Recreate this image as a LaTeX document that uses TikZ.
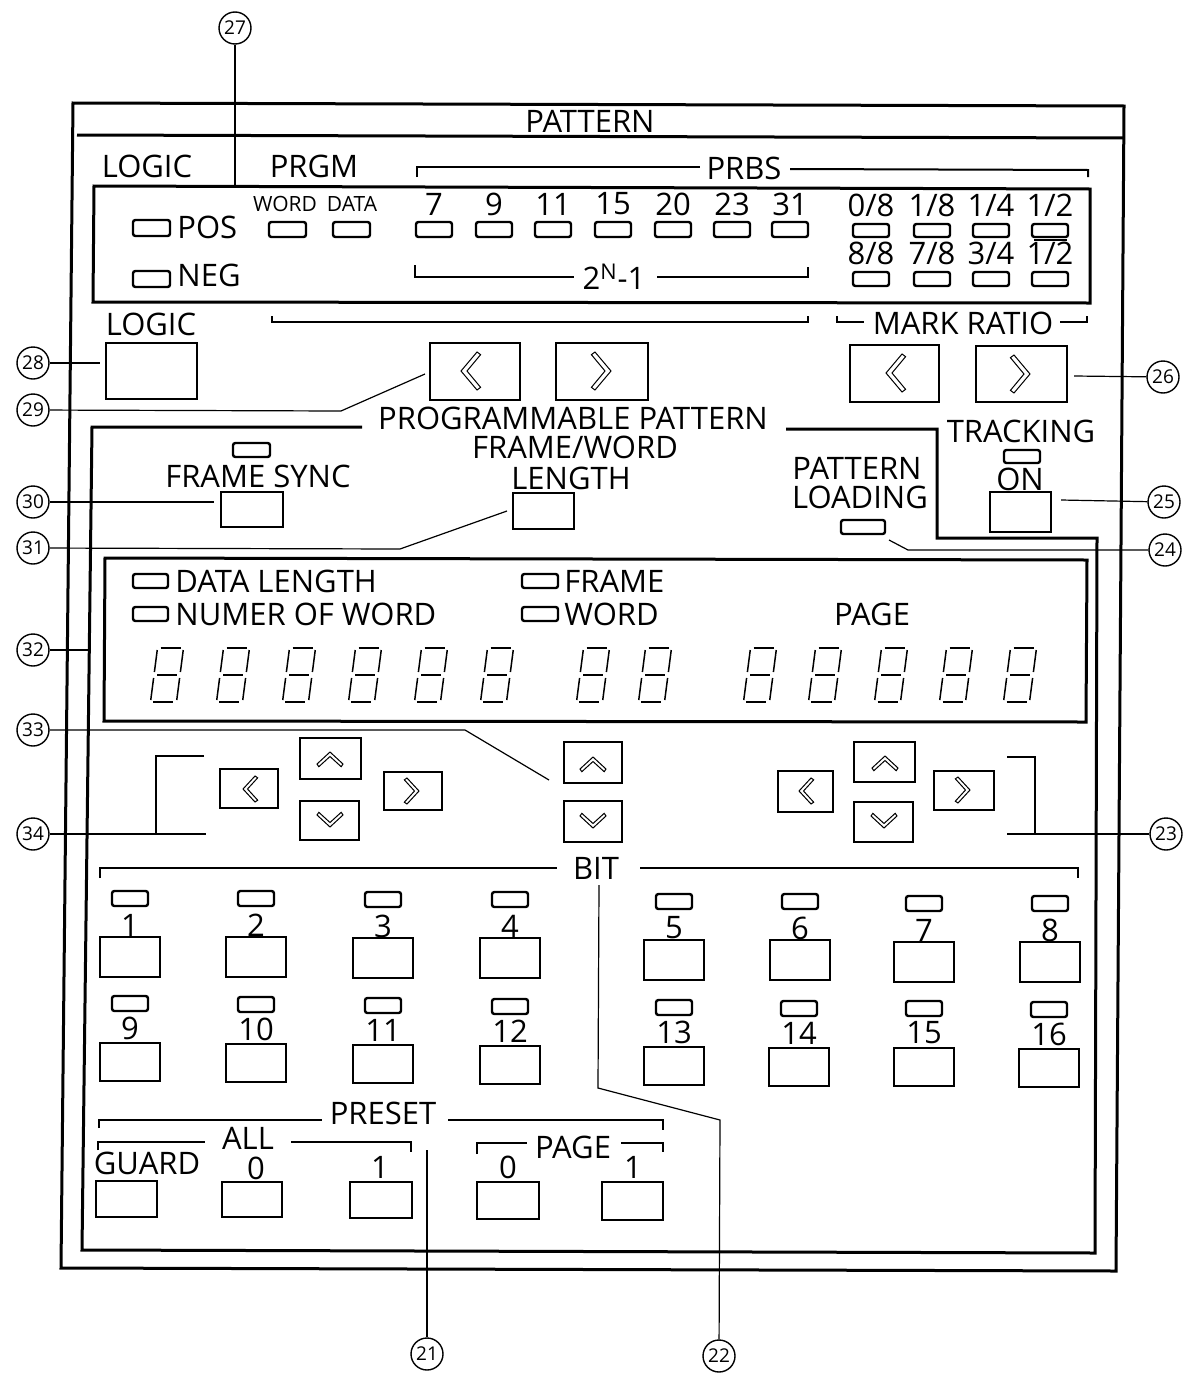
\documentclass[tikz,border=0pt]{standalone}
\usepackage{fontspec}
\setmainfont{Open Sans}
\usetikzlibrary{calc}
\tikzset{
  frameline/.style={line width=1.5pt, line join=miter},
  btnline/.style={line width=1.4pt},
  ledline/.style={line width=1.2pt, rounded corners=1.2pt},
  leader/.style={line width=0.6pt},
  brk/.style={line width=1pt},
  chevline/.style={line width=0.5pt, line join=miter},
  seghor/.style={line width=1.3pt},
  segver/.style={line width=0.75pt},
  lbl/.style={inner sep=0pt, font=\fontsize{15.5pt}{16pt}\selectfont},
  smalllbl/.style={inner sep=0pt, font=\fontsize{10.5pt}{11pt}\selectfont},
  callout/.style={draw, circle, line width=0.7pt, minimum size=16pt, inner sep=0pt, font=\fontsize{9.5pt}{9.5pt}\selectfont},
}
\newcommand{\btn}[4]{\draw[btnline] (#1,#2) rectangle (#3,#4);}
\newcommand{\led}[4]{\draw[ledline] (#1,#2) rectangle (#3,#4);}
% cx cy half-length half-width rotation ; base shape points left
\newcommand{\chev}[5]{%
  \begin{scope}[shift={(#1,#2)}, rotate=#5, xscale=#3, yscale=#4]
    \draw[chevline] (1,-1) -- (-1,0) -- (1,1) -- (1.45,0.86) -- (-0.25,0) -- (1.45,-0.86) -- cycle;
  \end{scope}}
\newcommand{\segd}[2]{%
  \begin{scope}[shift={(#1,#2)}, xslant=0.13]
    \draw[seghor] (-10,-27)--(10,-27) (-10,0)--(10,0) (-10,27)--(10,27);
    \draw[segver] (13,-25)--(13,-3) (-13,-25)--(-13,-3) (-13,3)--(-13,25) (13,3)--(13,25);
  \end{scope}}
\begin{document}
\begin{tikzpicture}[x=0.5pt,y=-0.5pt]
\useasboundingbox (0,0) rectangle (1196,1376);
\fill[white] (0,0) rectangle (1196,1376);

% ---------- frames ----------
\draw[frameline] (73,103) -- (1124,106) -- (1116,1271) -- (61,1268) -- cycle;
\draw[frameline] (77,135) -- (1124,138);
\draw[frameline] (94,186) -- (1090,189) -- (1090,303) -- (93,302) -- cycle;
\draw[frameline] (362,427) -- (92,427) -- (82,1250) -- (1095,1253) -- (1097,538) -- (937,538) -- (937,429) -- (786,429);
\draw[frameline] (105,558) -- (1087,560) -- (1086,722) -- (104,721) -- cycle;

% ---------- top section ----------
\node[lbl] (tpattern) at (590,121) {PATTERN};
\node[lbl] (tlogic) at (147,166) {LOGIC};
\node[lbl] (tprgm) at (314,166) {PRGM};
\node[lbl] (tprbs) at (744,168) {PRBS};
\draw[brk] (417,177) -- (417,167) -- (700,167);
\draw[brk] (790,169) -- (1088,170) -- (1088,177);

\led{133}{220}{170}{236}
\node[lbl, anchor=west] (tpos) at (177,227) {POS};
\led{133}{271}{170}{287}
\node[lbl, anchor=west] (tneg) at (177,275) {NEG};

\node[smalllbl] (tword) at (285,204) {WORD};
\node[smalllbl] (tdata) at (352,204) {DATA};
\led{269}{222}{306}{237}
\led{333}{222}{370}{237}

\foreach \cx/\n in {434/7, 494/9, 553/11, 613/15, 673/20, 732/23, 790/31}{
  \node[lbl] (tn\n) at (\cx,204) {\n};
  \led{\cx-18}{222}{\cx+18}{237}
}
\draw[brk] (415,265) -- (415,277) -- (574,277);
\node[lbl] (tpow) at (614,277) {2\textsuperscript{N}-1};
\draw[brk] (657,277) -- (808,277) -- (808,267);

\foreach \cx/\a/\b/\k in {871/0\slash 8/8\slash 8/a, 932/1\slash 8/7\slash 8/b, 991/1\slash 4/3\slash 4/c, 1050/1\slash 2/1\slash 2/d}{
  \node[lbl] (tfa\k) at (\cx,205) {\a};
  \led{\cx-18}{224}{\cx+18}{237}
  \node[lbl] (tfb\k) at (\cx,253) {\b};
  \led{\cx-18}{272}{\cx+18}{286}
}
\draw[line width=0.8pt] (1034,240) -- (1067,240);

% under display
\node[lbl] (tlogic2) at (151,324) {LOGIC};
\draw[brk] (272,316) -- (272,322) -- (808,322) -- (808,316);
\draw[brk] (837,316) -- (837,322) -- (864,322);
\node[lbl] (tmark) at (963,323) {MARK RATIO};
\draw[brk] (1060,322) -- (1087,322) -- (1087,316);

\btn{106}{343}{197}{399}
\btn{430}{343}{520}{400}
\chev{469}{371}{8}{19}{0}
\btn{556}{343}{648}{400}
\chev{603}{371}{8}{19}{180}
\btn{850}{345}{939}{402}
\chev{894}{373}{8}{19}{0}
\btn{976}{346}{1067}{402}
\chev{1022}{374}{8}{19}{180}

% ---------- programmable pattern ----------
\node[lbl] (tprog) at (573,418) {PROGRAMMABLE PATTERN};
\node[lbl] (tfw) at (575,447) {FRAME/WORD};
\node[lbl] (tlen) at (571,478) {LENGTH};
\led{233}{443}{270}{457}
\node[lbl] (tfs) at (258,476) {FRAME SYNC};
\btn{221}{492}{283}{527}
\btn{513}{493}{574}{529}
\node[lbl] (tpl1) at (857,468) {PATTERN};
\node[lbl] (tpl2) at (860,497) {LOADING};
\led{841}{520}{885}{534}
\node[lbl] (ttrack) at (1021,431) {TRACKING};
\led{1004}{450}{1040}{463}
\node[lbl] (ton) at (1020,479) {ON};
\btn{990}{492}{1051}{532}

% display 2
\led{133}{574}{168}{588}
\node[lbl, anchor=west] (tdl) at (175,581) {DATA LENGTH};
\led{133}{607}{168}{621}
\node[lbl, anchor=west] (tnw) at (175,614) {NUMER OF WORD};
\led{522}{574}{558}{588}
\node[lbl, anchor=west] (tfr) at (564,581) {FRAME};
\led{522}{607}{558}{621}
\node[lbl, anchor=west] (twd) at (564,614) {WORD};
\node[lbl] (tpage) at (872,614) {PAGE};
\foreach \cx in {167,233,299,365,431,497,593,655,760,825,891,956,1020}{
  \segd{\cx}{675}
}

% arrow keys
\btn{220}{769}{278}{808} \chev{249}{789}{6}{13}{0}
\btn{300}{738}{361}{779} \chev{330}{758}{6}{13}{-90}
\btn{384}{772}{442}{810} \chev{413}{791}{6}{13}{180}
\btn{300}{801}{359}{840} \chev{330}{821}{6}{13}{90}
\btn{564}{742}{622}{783} \chev{593}{763}{6}{13}{-90}
\btn{564}{801}{622}{842} \chev{593}{822}{6}{13}{90}
\btn{778}{771}{833}{812} \chev{805}{791}{6}{13}{0}
\btn{854}{742}{915}{782} \chev{885}{762}{6}{13}{-90}
\btn{934}{771}{994}{810} \chev{964}{790}{6}{13}{180}
\btn{854}{802}{913}{842} \chev{884}{822}{6}{13}{90}

% ---------- bits ----------
\node[lbl] (tbit) at (596,868) {BIT};
\draw[brk] (100,878) -- (100,868) -- (557,868);
\draw[brk] (640,868) -- (1078,868) -- (1078,878);
\foreach \cx/\dy/\n in {130/0/1, 256/0/2, 383/1/3, 510/1/4, 674/3/5, 800/3/6, 924/5/7, 1050/5/8}{
  \led{\cx-18}{891+\dy}{\cx+18}{906+\dy}
  \node[lbl] (tb\n) at (\cx,925+\dy) {\n};
  \btn{\cx-30}{937+\dy}{\cx+30}{977+\dy}
}
\foreach \cx/\dy/\n in {130/0/9, 256/1/10, 383/2/11, 510/3/12, 674/4/13, 799/5/14, 924/5/15, 1049/6/16}{
  \led{\cx-18}{996+\dy}{\cx+18}{1011+\dy}
  \node[lbl] (tb\n) at (\cx,1028+\dy) {\n};
  \btn{\cx-30}{1043+\dy}{\cx+30}{1081+\dy}
}

% ---------- preset ----------
\node[lbl] (tpreset) at (383,1113) {PRESET};
\draw[brk] (99,1128) -- (99,1120) -- (322,1120);
\draw[brk] (448,1120) -- (663,1120) -- (663,1130);
\node[lbl] (tall) at (248,1138) {ALL};
\draw[brk] (98,1150) -- (98,1142) -- (205,1142);
\draw[brk] (291,1142) -- (411,1142) -- (411,1152);
\node[lbl] (tpage2) at (573,1147) {PAGE};
\draw[brk] (477,1154) -- (477,1143) -- (527,1143);
\draw[brk] (621,1143) -- (663,1143) -- (663,1152);
\node[lbl] (tguard) at (147,1163) {GUARD};
\node[lbl] (ta0) at (256,1168) {0};
\node[lbl] (ta1) at (380,1167) {1};
\node[lbl] (tp0) at (508,1167) {0};
\node[lbl] (tp1) at (633,1167) {1};
\btn{96}{1181}{157}{1217}
\btn{222}{1182}{282}{1217}
\btn{350}{1182}{412}{1218}
\btn{477}{1182}{539}{1219}
\btn{602}{1182}{663}{1220}

% ---------- callouts ----------
\node[callout] (c27) at (235,28) {27};
\node[callout] (c28) at (33,363) {28};
\node[callout] (c29) at (33,410) {29};
\node[callout] (c30) at (33,502) {30};
\node[callout] (c31) at (33,548) {31};
\node[callout] (c32) at (33,650) {32};
\node[callout] (c33) at (33,730) {33};
\node[callout] (c34) at (33,834) {34};
\node[callout] (c23) at (1166,834) {23};
\node[callout] (c24) at (1165,550) {24};
\node[callout] (c25) at (1164,502) {25};
\node[callout] (c26) at (1163,377) {26};
\node[callout] (c21) at (427,1354) {21};
\node[callout] (c22) at (719,1356) {22};

\coordinate (t27) at (235,186);
\coordinate (t28) at (100,363);
\coordinate (k29) at (341,411);
\coordinate (t29) at (425,374);
\coordinate (t30) at (214,502);
\coordinate (k31) at (400,549);
\coordinate (t31) at (507,511);
\coordinate (t32) at (88,650);
\coordinate (k33) at (465,730);
\coordinate (t33) at (549,780);
\coordinate (t34) at (206,834);
\coordinate (k34a) at (156,834);
\coordinate (k34b) at (156,756);
\coordinate (k34c) at (204,756);
\coordinate (t23) at (1007,834);
\coordinate (k23a) at (1035,834);
\coordinate (k23b) at (1035,757);
\coordinate (k23c) at (1007,757);
\coordinate (k24) at (908,550);
\coordinate (t24) at (889,540);
\coordinate (t25) at (1061,500);
\coordinate (t26) at (1074,376);
\coordinate (t21) at (427,1150);
\coordinate (k22a) at (720,1120);
\coordinate (k22b) at (598,1088);
\coordinate (t22) at (599,885);

\draw[leader] (c27) -- (t27);
\draw[leader] (c28) -- (t28);
\draw[leader] (c29) -- (k29) -- (t29);
\draw[leader] (c30) -- (t30);
\draw[leader] (c31) -- (k31) -- (t31);
\draw[leader] (c32) -- (t32);
\draw[leader] (c33) -- (k33) -- (t33);
\draw[leader] (c34) -- (t34);
\draw[leader] (k34c) -- (k34b) -- (k34a);
\draw[leader] (c23) -- (t23);
\draw[leader] (k23c) -- (k23b) -- (k23a);
\draw[leader] (c24) -- (k24) -- (t24);
\draw[leader] (c25) -- (t25);
\draw[leader] (c26) -- (t26);
\draw[leader] (c21) -- (t21);
\draw[leader] (c22) -- (k22a) -- (k22b) -- (t22);
\end{tikzpicture}
\end{document}
